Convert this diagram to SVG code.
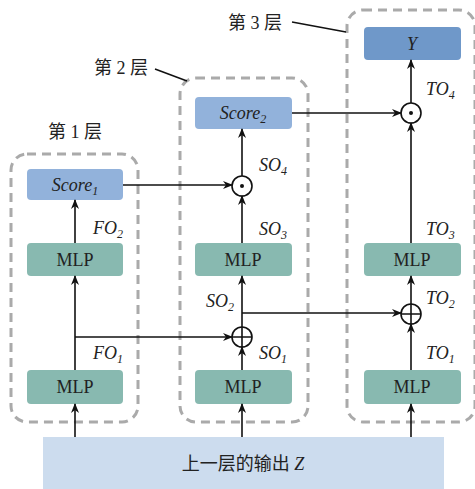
<svg xmlns="http://www.w3.org/2000/svg" width="475" height="489" viewBox="0 0 475 489">
<style>
.dash{fill:none;stroke:#aaaaaa;stroke-width:3;stroke-dasharray:9 6}
.mlp{fill:#88b9b0}
.sc{fill:#92b2db}
.y{fill:#6f98c9}
.t{font-family:'Liberation Serif','Times New Roman',Times,serif;font-size:18px;fill:#222}
.i{font-style:italic}
.cn{font-family:'Liberation Serif','Noto Sans CJK SC',serif;font-size:18px;fill:#222}
.ln{fill:none;stroke:#111;stroke-width:1.6}
.op{fill:#fff;stroke:#111;stroke-width:1.6}
</style>
<defs>
<marker id="ah" markerWidth="10" markerHeight="10" refX="9" refY="5" orient="auto" markerUnits="userSpaceOnUse">
<path d="M0,1 L10,5 L0,9 L3,5 Z" fill="#111"/>
</marker>
</defs>
<g id="input">
<rect x="43" y="437" width="401" height="52" fill="#ccdcee"/>
<text class="cn" x="243" y="470" text-anchor="middle">上一层的输出 <tspan class="i" font-family="Liberation Serif">Z</tspan></text>
</g>
<g id="layer1">
<rect class="dash" x="11" y="154" width="127" height="268" rx="16"/>
<text class="cn" x="75" y="138" text-anchor="middle">第 1 层</text>
<g id="score1"><rect class="sc" x="27" y="169" width="96" height="31" rx="4"/><text class="t i" x="75" y="191" text-anchor="middle">Score<tspan font-size="12" dy="4">1</tspan></text></g>
<g id="mlp1b"><rect class="mlp" x="27" y="243" width="96" height="33" rx="4"/><text class="t" x="75" y="266" text-anchor="middle">MLP</text></g>
<g id="mlp1a"><rect class="mlp" x="27" y="370" width="96" height="34" rx="4"/><text class="t" x="75" y="393" text-anchor="middle">MLP</text></g>
</g>
<g id="layer2">
<rect class="dash" x="180" y="78" width="128" height="344" rx="16"/>
<text class="cn" x="121" y="74" text-anchor="middle">第 2 层</text>
<g id="score2"><rect class="sc" x="195" y="97" width="97" height="32" rx="4"/><text class="t i" x="243" y="119" text-anchor="middle">Score<tspan font-size="12" dy="4">2</tspan></text></g>
<g id="mlp2b"><rect class="mlp" x="195" y="243" width="97" height="33" rx="4"/><text class="t" x="243" y="266" text-anchor="middle">MLP</text></g>
<g id="mlp2a"><rect class="mlp" x="195" y="370" width="97" height="34" rx="4"/><text class="t" x="243" y="393" text-anchor="middle">MLP</text></g>
<g id="odot2"><circle class="op" cx="242" cy="186" r="10"/><circle cx="242" cy="186" r="2" fill="#111"/></g>
<g id="oplus2"><circle class="op" cx="242" cy="337" r="10"/><path class="ln" d="M232,337 H252 M242,327 V347"/></g>
</g>
<g id="layer3">
<rect class="dash" x="347" y="10" width="128" height="412" rx="16"/>
<text class="cn" x="255" y="29" text-anchor="middle">第 3 层</text>
<g id="y"><rect class="y" x="364" y="27" width="97" height="33" rx="4"/><text class="t i" x="412" y="50" text-anchor="middle">Y</text></g>
<g id="mlp3b"><rect class="mlp" x="364" y="243" width="97" height="33" rx="4"/><text class="t" x="412" y="266" text-anchor="middle">MLP</text></g>
<g id="mlp3a"><rect class="mlp" x="364" y="370" width="97" height="34" rx="4"/><text class="t" x="412" y="393" text-anchor="middle">MLP</text></g>
<g id="odot3"><circle class="op" cx="411" cy="113" r="10"/><circle cx="411" cy="113" r="2" fill="#111"/></g>
<g id="oplus3"><circle class="op" cx="411" cy="314" r="10"/><path class="ln" d="M401,314 H421 M411,304 V324"/></g>
</g>
<g id="connectors">
<path class="ln" d="M155,69 L187,81"/>
<path class="ln" d="M292,22 L346,32"/>
<path class="ln" d="M75,437 V404" marker-end="url(#ah)"/>
<path class="ln" d="M242,437 V404" marker-end="url(#ah)"/>
<path class="ln" d="M411,437 V404" marker-end="url(#ah)"/>
<path class="ln" d="M75,370 V276" marker-end="url(#ah)"/>
<path class="ln" d="M75,243 V200" marker-end="url(#ah)"/>
<path class="ln" d="M75,337 H232" marker-end="url(#ah)"/>
<path class="ln" d="M123,185 H232" marker-end="url(#ah)"/>
<path class="ln" d="M242,370 V347" marker-end="url(#ah)"/>
<path class="ln" d="M242,327 V276" marker-end="url(#ah)"/>
<path class="ln" d="M242,313 H401" marker-end="url(#ah)"/>
<path class="ln" d="M242,243 V196" marker-end="url(#ah)"/>
<path class="ln" d="M242,176 V129" marker-end="url(#ah)"/>
<path class="ln" d="M292,113 H401" marker-end="url(#ah)"/>
<path class="ln" d="M411,370 V324" marker-end="url(#ah)"/>
<path class="ln" d="M411,304 V276" marker-end="url(#ah)"/>
<path class="ln" d="M411,243 V123" marker-end="url(#ah)"/>
<path class="ln" d="M411,103 V60" marker-end="url(#ah)"/>
</g>
<g id="labels">
<text class="t i" x="93" y="234">FO<tspan font-size="12" dy="4">2</tspan></text>
<text class="t i" x="93" y="359">FO<tspan font-size="12" dy="4">1</tspan></text>
<text class="t i" x="259" y="171">SO<tspan font-size="12" dy="4">4</tspan></text>
<text class="t i" x="259" y="235">SO<tspan font-size="12" dy="4">3</tspan></text>
<text class="t i" x="206" y="307">SO<tspan font-size="12" dy="4">2</tspan></text>
<text class="t i" x="259" y="359">SO<tspan font-size="12" dy="4">1</tspan></text>
<text class="t i" x="426" y="95">TO<tspan font-size="12" dy="4">4</tspan></text>
<text class="t i" x="426" y="235">TO<tspan font-size="12" dy="4">3</tspan></text>
<text class="t i" x="426" y="304">TO<tspan font-size="12" dy="4">2</tspan></text>
<text class="t i" x="426" y="359">TO<tspan font-size="12" dy="4">1</tspan></text>
</g>
</svg>
